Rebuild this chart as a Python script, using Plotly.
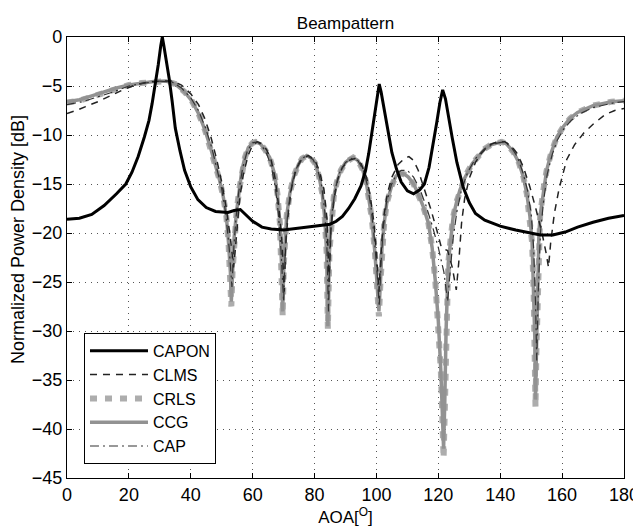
import plotly.graph_objects as go

# ---------------- data ----------------
capon_x = [0, 4, 8, 12, 16, 19, 21, 23, 25, 26.5, 27.5, 28.5, 29.5, 30.3, 30.8, 31.3, 32, 33, 34, 35,
           36.5, 38, 40, 42.3, 45, 48, 52, 54, 56, 58, 60, 63, 66, 70, 75, 80, 85, 87, 89, 91, 93, 95,
           96.5, 97.5, 98.5, 99.5, 100.3, 100.9, 101.5, 102.5, 103.5, 105, 106.5, 108, 110, 112, 114,
           115.5, 117, 118.5, 119.5, 120.5, 121.4, 122.3, 123.3, 124.5, 126, 128, 130, 132, 135, 140,
           145, 150, 153, 157, 161, 165, 170, 175, 180]
capon_y = [-18.6, -18.5, -18.1, -17.2, -16.0, -15.0, -13.8, -12.2, -10.2, -8.5, -6.8, -5.0, -2.8, -0.9, 0.0, -0.9,
           -2.2, -4.2, -6.6, -9.3, -11.6, -13.6, -15.3, -16.6, -17.4, -17.8, -17.9, -17.7, -17.6, -18.2, -18.8,
           -19.4, -19.6, -19.7, -19.5, -19.3, -19.1, -18.8, -18.3, -17.5, -16.5, -15.2, -13.6, -11.9, -9.7,
           -7.4, -5.6, -4.8, -5.6, -7.4, -9.3, -11.8, -13.5, -14.8, -15.7, -16.0, -15.6, -15.0, -13.3, -10.7,
           -8.7, -6.7, -5.4, -6.3, -8.2, -10.3, -12.8, -15.3, -16.9, -18.0, -18.7, -19.3, -19.7, -20.0, -20.2,
           -20.2, -19.9, -19.4, -18.9, -18.5, -18.2]

crls_x = [0, 4, 8, 12, 16, 20, 24, 28, 32, 35, 38, 40.3, 42.5, 44.6, 46.3, 47.8, 49.3, 50.5, 51.5, 52.2,
          52.8, 53.1, 53.5, 54, 54.8, 55.7, 56.5, 57.5, 58.6, 60, 61, 62.5, 64, 65.5, 67, 68, 68.8, 69.3,
          69.7, 70.1, 70.5, 71, 72, 73.2, 74.8, 76, 77.5, 79, 80.2, 81.5, 82.5, 83.3, 83.9, 84.3, 84.8,
          85.4, 86.2, 87.2, 88.5, 90, 91.5, 92.5, 94, 95.5, 96.7, 97.5, 98.5, 99.5, 100.3, 100.8, 101.3,
          101.8, 102.5, 103.3, 104.9, 106.3, 107.6, 109, 110.3, 112, 113.5, 115, 116.8, 118, 119, 120,
          120.8, 121.4, 121.7, 122.1, 122.5, 123.2, 124, 124.8, 126, 127, 128.5, 129.7, 131, 132.9, 135,
          137, 139, 140.5, 142, 144.2, 146, 147.5, 148.6, 149.6, 150.3, 150.8, 151.2, 151.4, 151.7, 152.1,
          152.5, 152.9, 154, 155, 156.5, 158.3, 160.5, 162.6, 165, 168, 170, 173, 176, 180]
crls_y = [-6.7, -6.5, -6.1, -5.7, -5.3, -4.9, -4.7, -4.55, -4.5, -4.8, -5.6, -6.5, -7.8, -9.5, -11.2, -12.9,
          -14.6, -16.3, -18.3, -21.0, -24.5, -27.5, -24.0, -20.5, -17.8, -15.5, -13.6, -12.3, -11.3, -10.8,
          -10.7, -10.9, -11.5, -12.3, -13.9, -16.0, -19.0, -23.0, -28.5, -23.0, -20.0, -18.2, -16.0, -14.3,
          -13.0, -12.4, -12.1, -12.4, -12.9, -14.3, -16.0, -18.5, -22.0, -29.8, -22.0, -18.5, -16.3, -14.8,
          -13.6, -12.8, -12.4, -12.3, -12.6, -13.5, -14.8, -16.3, -18.5, -22.0, -25.5, -28.5, -25.0, -21.5,
          -19.0, -17.0, -15.2, -14.2, -13.9, -14.0, -14.3, -15.0, -16.0, -17.2, -19.0, -21.5, -24.8, -29.0,
          -34.0, -40.0, -43.0, -38.0, -30.0, -23.1, -20.5, -18.3, -16.7, -15.6, -14.4, -13.6, -12.9, -12.2,
          -11.4, -11.0, -10.8, -10.7, -10.9, -11.7, -12.8, -14.3, -16.0, -18.3, -21.0, -26.0, -32.0, -37.8,
          -32.0, -25.0, -20.0, -18.2, -15.5, -13.6, -11.8, -10.2, -9.1, -8.3, -7.7, -7.3, -7.0, -6.8, -6.6,
          -6.5]

ccg_x = crls_x
ccg_y = [-6.6, -6.4, -6.0, -5.6, -5.2, -4.9, -4.7, -4.55, -4.5, -4.8, -5.6, -6.5, -7.8, -9.5, -11.2, -12.9,
         -14.6, -16.3, -18.3, -21.0, -24.0, -27.0, -24.0, -20.5, -17.8, -15.5, -13.6, -12.3, -11.3, -10.8,
         -10.7, -10.9, -11.5, -12.3, -13.9, -16.0, -19.0, -23.0, -28.0, -23.0, -20.0, -18.2, -16.0, -14.3,
         -13.0, -12.4, -12.1, -12.4, -12.9, -14.3, -16.0, -18.5, -22.0, -29.5, -22.0, -18.5, -16.3, -14.8,
         -13.6, -12.8, -12.4, -12.3, -12.6, -13.5, -14.8, -16.3, -18.5, -22.0, -25.5, -28.0, -25.0, -21.5,
         -19.0, -17.0, -15.2, -14.2, -13.9, -14.0, -14.3, -15.0, -16.0, -17.2, -19.0, -21.5, -24.8, -29.0,
         -34.0, -39.0, -42.0, -37.0, -30.0, -23.1, -20.5, -18.3, -16.7, -15.6, -14.4, -13.6, -12.9, -12.2,
         -11.4, -11.0, -10.8, -10.7, -10.9, -11.7, -12.8, -14.3, -16.0, -18.3, -21.0, -26.0, -31.0, -37.0,
         -31.0, -25.0, -20.0, -18.2, -15.5, -13.6, -11.8, -10.2, -9.1, -8.3, -7.7, -7.3, -7.0, -6.8, -6.6,
         -6.5]

clms_x = [0, 3, 6, 10, 14, 18, 22, 26, 30, 34, 37, 40, 42.5, 44.5, 46.5, 48.3, 50, 51.5, 52.8, 53.8, 54.3,
          55, 55.8, 57, 58.5, 60, 61.5, 63, 64.5, 66, 67.3, 68.5, 69.5, 70.2, 70.7, 71.5, 72.5, 74, 76, 78,
          80, 81.5, 83, 84, 84.7, 85.3, 86.3, 87.5, 89, 91, 93, 95, 96.8, 98, 99.2, 100, 100.8, 101.5,
          102.3, 103.5, 105, 107, 109, 110.5, 112, 113.5, 115.5, 117.5, 119.5, 121, 123, 124.5, 125.8,
          126.6, 127.5, 128.5, 130, 132, 134, 136.5, 139, 141.5, 143.5, 145.5, 147.5, 149.5, 151.5, 153.5,
          154.8, 155.6, 156.3, 157.5, 159, 161.5, 164, 167, 170, 174, 177, 180]
clms_y = [-7.8, -7.5, -7.1, -6.6, -6.0, -5.4, -4.9, -4.6, -4.5, -4.5, -4.9, -5.8, -6.9, -8.3, -10.2, -12.4,
          -14.8, -17.5, -20.5, -23.5, -22.0, -19.0, -16.5, -14.0, -12.1, -11.0, -10.7, -10.9, -11.5, -12.6,
          -14.5, -17.5, -21.0, -26.0, -21.0, -18.0, -15.5, -13.5, -12.4, -12.1, -12.5, -13.6, -15.5, -18.5,
          -25.0, -19.5, -16.5, -14.5, -13.3, -12.6, -12.4, -12.9, -14.3, -16.2, -19.0, -22.0, -26.0, -22.0,
          -18.5, -16.0, -14.3, -13.0, -12.4, -12.2, -12.6, -13.6, -15.5, -17.5, -19.7, -21.5, -21.8, -23.5,
          -25.8, -23.0, -19.0, -16.5, -14.4, -12.8, -11.8, -11.0, -10.7, -10.7, -11.1, -11.9, -13.3, -15.2,
          -17.5, -20.0, -22.0, -23.5, -21.0, -18.0, -15.5, -12.5, -11.0, -9.8, -8.9, -7.9, -7.5, -7.3]

cap_x = [0, 5, 10, 15, 20, 25, 30, 34, 37, 40, 42.5, 44.8, 46.8, 48.5, 50, 51.3, 52.4, 53.3, 53.9, 54.6,
         55.5, 56.8, 58.3, 60, 61.5, 63, 64.5, 66, 67.3, 68.3, 69.2, 70, 70.5, 71.2, 72.2, 73.6, 75.5, 77.5,
         79.5, 81, 82.3, 83.3, 84, 84.5, 85, 85.7, 86.7, 88, 90, 92, 94, 95.8, 97.2, 98.3, 99.3, 100.2,
         100.9, 101.5, 102.2, 103.2, 104.8, 106.5, 108, 110, 112, 114, 116, 118, 120, 121.8, 123, 123.8,
         124.8, 126, 127.5, 129.5, 132, 135, 138, 141, 143.5, 145.5, 147.3, 148.8, 150, 150.8, 151.4,
         151.8, 152.3, 153, 154, 155.2, 156.8, 158.5, 160.5, 163, 166, 170, 174, 177, 180]
cap_y = [-6.9, -6.6, -6.1, -5.6, -5.0, -4.7, -4.5, -4.6, -5.2, -6.2, -7.5, -9.3, -11.3, -13.4, -15.5, -18.0,
         -21.5, -25.5, -21.5, -18.5, -15.8, -13.3, -11.6, -10.8, -10.7, -11.1, -11.9, -13.2, -15.3, -18.0,
         -22.0, -27.0, -22.0, -18.5, -15.8, -13.8, -12.5, -12.1, -12.5, -13.5, -15.2, -17.8, -21.5, -28.0,
         -21.0, -17.8, -15.5, -13.9, -12.8, -12.4, -12.6, -13.6, -15.3, -17.5, -20.5, -24.0, -27.5, -23.0,
         -19.5, -17.0, -15.1, -14.0, -13.6, -13.6, -14.3, -15.5, -17.2, -19.2, -21.5, -24.0, -27.0, -24.0,
         -20.5, -17.8, -15.6, -13.8, -12.4, -11.4, -10.9, -10.7, -11.2, -12.2, -13.8, -15.6, -18.0, -21.5,
         -27.0, -33.0, -26.0, -20.0, -16.8, -14.0, -12.0, -10.5, -9.4, -8.5, -7.8, -7.2, -6.9, -6.7, -6.6]

x_ticks = [0, 20, 40, 60, 80, 100, 120, 140, 160, 180]
y_ticks = [0, -5, -10, -15, -20, -25, -30, -35, -40, -45]

FONT = "Liberation Sans, Arial, sans-serif"

# The page body has an 8 px margin, so the figure is sized/offset to compensate.
W, H = 633, 521
PL, PR, PT, PB = 59, 17, 29, 51
PW, PH = W - PL - PR, H - PT - PB

fig = go.Figure()
fig.add_trace(go.Scatter(x=crls_x, y=crls_y, name="CRLS", mode="lines", legendrank=3,
                         line=dict(color="#adadad", width=6, dash="7px,8px")))
fig.add_trace(go.Scatter(x=ccg_x, y=ccg_y, name="CCG", mode="lines", legendrank=4,
                         line=dict(color="#929292", width=3.5)))
fig.add_trace(go.Scatter(x=clms_x, y=clms_y, name="CLMS", mode="lines", legendrank=2,
                         line=dict(color="#222222", width=1.5, dash="7px,6px")))
fig.add_trace(go.Scatter(x=cap_x, y=cap_y, name="CAP", mode="lines", legendrank=5,
                         line=dict(color="#333333", width=1.2, dash="9px,4px,2px,4px")))
fig.add_trace(go.Scatter(x=capon_x, y=capon_y, name="CAPON", mode="lines", legendrank=1,
                         line=dict(color="black", width=3)))

axis_common = dict(showline=True, linecolor="black", linewidth=1.2, mirror="allticks",
                   ticks="inside", ticklen=5, tickcolor="black", automargin=False,
                   showgrid=True, gridcolor="#555555", griddash="1px,5px", gridwidth=1,
                   zeroline=False, tickfont=dict(family=FONT, size=18, color="black"))

fig.update_xaxes(range=[0, 180], tickvals=x_ticks, ticktext=[str(v) for v in x_ticks],
                 title=dict(text="AOA[<sup>O</sup>]", font=dict(family=FONT, size=17, color="black"),
                            standoff=4),
                 **axis_common)
fig.update_yaxes(range=[-45, 0], tickvals=y_ticks,
                 ticktext=[("\u2212" + str(-v)) if v < 0 else "0" for v in y_ticks],
                 **axis_common)

# y-axis label (placed slightly above the axis centre, as in the reference)
fig.add_annotation(text="Normalized Power Density [dB]", textangle=-90,
                   xref="paper", yref="paper",
                   x=(18 - 8 - PL) / PW, y=1 - (240 - 8 - PT) / PH,
                   xanchor="center", yanchor="middle", showarrow=False,
                   font=dict(family=FONT, size=18, color="black"))

fig.update_layout(
    width=W, height=H,
    margin=dict(l=PL, r=PR, t=PT, b=PB, autoexpand=False),
    paper_bgcolor="white", plot_bgcolor="white",
    title=dict(text="Beampattern", x=0.5, xref="paper", xanchor="center", yref="container",
               y=1 - 15 / H, yanchor="middle", font=dict(family=FONT, size=17, color="black")),
    showlegend=True,
    legend=dict(x=0.0305, y=0.329, xanchor="left", yanchor="top",
                bgcolor="white", bordercolor="black", borderwidth=1,
                font=dict(family=FONT, size=16, color="black"),
                itemwidth=58, tracegroupgap=0),
    font=dict(family=FONT, color="black"),
)

fig.write_html("out.html")
